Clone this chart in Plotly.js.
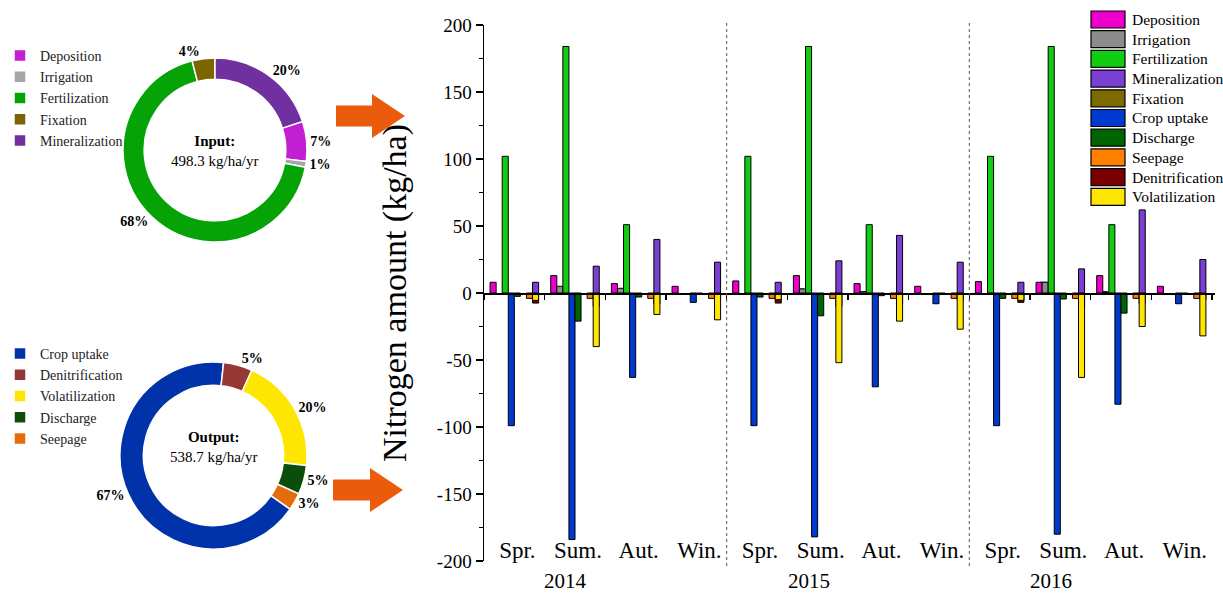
<!DOCTYPE html>
<html>
<head>
<meta charset="utf-8">
<script src="https://cdn.plot.ly/plotly-3.0.1.min.js"></script>
<style>html,body{margin:0;padding:0;background:#fff;}#chart{width:1223px;height:594px;}</style>
</head>
<body>
<div id="chart"></div>
<script>
// ---------- data ----------
const years = ['2014', '2015', '2016'];
const seasons = ['Spr.', 'Sum.', 'Aut.', 'Win.'];

// seasonal nitrogen fluxes (kg/ha), order: 2014 Spr..Win, 2015 Spr..Win, 2016 Spr..Win
const deposition     = [8, 13, 7, 5,   9, 13, 7, 5,   8.5, 8, 13, 5];
const irrigation     = [null, 5, 3.5, null,   null, 3, 1, null,   null, 8, 0.5, null];
const fertilization  = [102, 184, 51, null,   102, 184, 51, null,   102, 184, 51, null];
const mineralization = [8, 20, 40, 23,   8, 24, 43, 23,   8, 18, 62, 25];
const fixation       = [null, 4, 2, null,   null, 3, 1, null,   null, 8, 1, null];
const cropUptake     = [-99, -184, -63, -7,   -99, -182, -70, -8,   -99, -180, -83, -8];
const discharge      = [-2.5, -21, -3, -1,   -3, -17, -2, -1,   -4, -4.5, -15, -1];
const seepage        = [-4, -4, -4, -4,   -4, -4, -4, -4,   -4, -4, -4, -4];
const denitrification= [-7.5, -10, -8, -5,   -7.5, -10, -8, -5,   -7, -10, -8, -5];
const volatilization = [-5.5, -40, -16, -20,   -5, -52, -21, -27,   -5.5, -63, -25, -32];

// annual budget donuts (%)
const inputLabels  = ['Deposition', 'Irrigation', 'Fertilization', 'Fixation', 'Mineralization'];
const inputShares  = [7, 1, 68, 4, 20];
const outputLabels = ['Crop uptake', 'Denitrification', 'Volatilization', 'Discharge', 'Seepage'];
const outputShares = [67, 5, 20, 5, 3];
const inputTotal = '498.3 kg/ha/yr';
const outputTotal = '538.7 kg/ha/yr';

const yTicks = [-200, -150, -100, -50, 0, 50, 100, 150, 200];

// ---------- helpers ----------
const W = 1223, H = 594;
const px = v => v / W;
const py = v => 1 - v / H;

const seasonX = [];
const seasonLabels = [];
years.forEach((yr, yi) => seasons.forEach((s, si) => {
  seasonX.push(yi * seasons.length + si);
  seasonLabels.push(s);
}));

const SLOT = 0.1;
const series = [];   // legend bookkeeping
function barTrace(name, vals, color, slot, rank) {
  series.push({name: name, color: color, rank: rank});
  return {
    type: 'bar', name: name, x: seasonX, y: vals,
    offset: slot * SLOT, width: SLOT,
    marker: {color: color, line: {color: '#000', width: 1}},
    showlegend: false, hoverinfo: 'name+y'
  };
}

const pctFont = {family: 'Liberation Serif', size: 14, color: '#000', weight: 'bold'};

const traces = [
  barTrace('Fixation', fixation, '#7A6A00', 1.75, 5),
  barTrace('Deposition', deposition, '#EE00CC', 1, 1),
  barTrace('Irrigation', irrigation, '#8C8C8C', 2, 2),
  barTrace('Fertilization', fertilization, '#11CC11', 3, 3),
  barTrace('Crop uptake', cropUptake, '#0038D0', 4, 6),
  barTrace('Discharge', discharge, '#006400', 5, 7),
  barTrace('Seepage', seepage, '#FF8000', 7, 8),
  barTrace('Denitrification', denitrification, '#7A0000', 8, 9),
  barTrace('Volatilization', volatilization, '#FFE600', 8, 10),
  barTrace('Mineralization', mineralization, '#7B3FD4', 8, 4),
  {type: 'scatter', x: [], y: [], xaxis: 'x2', yaxis: 'y', showlegend: false, hoverinfo: 'skip'},
  {
    type: 'pie', labels: inputLabels, values: inputShares, sort: false,
    direction: 'clockwise', rotation: 72, hole: 0.77,
    domain: {x: [px(123), px(307)], y: [py(242), py(58)]},
    marker: {colors: ['#C21FD3', '#A6A6A6', '#05A305', '#7A6500', '#7030A0'], line: {color: '#fff', width: 1.5}},
    texttemplate: '%{value}%', textposition: 'outside', textfont: pctFont,
    legend: 'legend2', hoverinfo: 'label+percent'
  },
  {
    type: 'pie', labels: outputLabels, values: outputShares, sort: false,
    direction: 'clockwise', rotation: 125, hole: 0.75,
    domain: {x: [px(120), px(307)], y: [py(549), py(362)]},
    marker: {colors: ['#0033AA', '#953735', '#FFE600', '#0B4D0B', '#E46C0A'], line: {color: '#fff', width: 1.5}},
    texttemplate: '%{value}%', textposition: 'outside', textfont: pctFont,
    legend: 'legend3', hoverinfo: 'label+percent'
  }
];

const xRange = [0, 12.05];
const xDomain = [px(484), px(1215)];
const yDomain = [py(561), py(25)];

function arrowPath(x0, xNeck, xTip, yMid, bodyHalf, headHalf) {
  const pts = [
    [x0, yMid - bodyHalf], [xNeck, yMid - bodyHalf], [xNeck, yMid - headHalf],
    [xTip, yMid], [xNeck, yMid + headHalf], [xNeck, yMid + bodyHalf], [x0, yMid + bodyHalf]
  ];
  return 'M' + pts.map(p => px(p[0]).toFixed(5) + ',' + py(p[1]).toFixed(5)).join(' L') + ' Z';
}

const shapes = [];
for (let k = 1; k < years.length; k++) {
  shapes.push({type: 'line', xref: 'x', yref: 'paper', x0: k * seasons.length, x1: k * seasons.length,
    y0: py(566), y1: py(22), line: {color: '#555', width: 1, dash: 'dot'}});
}
shapes.push({type: 'path', xref: 'paper', yref: 'paper', path: arrowPath(336, 372, 405, 116, 10.5, 22),
  fillcolor: '#EA5B0C', line: {width: 0}});
shapes.push({type: 'path', xref: 'paper', yref: 'paper', path: arrowPath(333, 370, 403, 490, 10.5, 22),
  fillcolor: '#EA5B0C', line: {width: 0}});

const annotations = years.map((yr, yi) => ({
  text: yr, xref: 'x', yref: 'paper', x: yi * seasons.length + 1.35, y: py(581),
  showarrow: false, font: {size: 21, color: '#000'}, xanchor: 'center', yanchor: 'middle'
}));
annotations.push({text: '<b>Input:</b><br>' + inputTotal, xref: 'paper', yref: 'paper',
  x: px(215), y: py(151), showarrow: false, font: {size: 15, color: '#000'}, xanchor: 'center', yanchor: 'middle'});
annotations.push({text: '<b>Output:</b><br>' + outputTotal, xref: 'paper', yref: 'paper',
  x: px(214), y: py(447), showarrow: false, font: {size: 15, color: '#000'}, xanchor: 'center', yanchor: 'middle'});

// bar legend (large swatches, as in the original figure)
const LEG_X0 = 1091, LEG_X1 = 1125, LEG_Y0 = 11, LEG_ROW = 19.7, LEG_H = 17;
series.slice().sort((a, b) => a.rank - b.rank).forEach((s, i) => {
  const top = LEG_Y0 + i * LEG_ROW;
  shapes.push({type: 'rect', xref: 'paper', yref: 'paper',
    x0: px(LEG_X0), x1: px(LEG_X1), y0: py(top + LEG_H), y1: py(top),
    fillcolor: s.color, line: {color: '#000', width: 1.2}});
  annotations.push({text: s.name, xref: 'paper', yref: 'paper', x: px(LEG_X1 + 5), y: py(top + LEG_H / 2),
    xanchor: 'left', yanchor: 'middle', showarrow: false, font: {size: 15.5, color: '#000'}});
});

const layout = {
  width: W, height: H,
  margin: {l: 0, r: 0, t: 0, b: 0},
  paper_bgcolor: '#fff', plot_bgcolor: 'rgba(0,0,0,0)',
  font: {family: 'Liberation Serif', color: '#000'},
  barmode: 'overlay',
  showlegend: true,
  xaxis: {
    domain: xDomain, range: xRange, anchor: 'free', position: py(534),
    showline: false, showgrid: false, zeroline: false, ticks: '',
    tickmode: 'array', tickvals: seasonX.map(v => v + 0.55), ticktext: seasonLabels,
    tickfont: {size: 23, color: '#000'}, fixedrange: true
  },
  xaxis2: {
    domain: xDomain, range: xRange, overlaying: 'x', anchor: 'free', position: py(293), side: 'bottom',
    showline: true, linecolor: '#000', linewidth: 1.5, showgrid: false, zeroline: false,
    ticks: 'outside', ticklen: 5, tickwidth: 1.2, tickcolor: '#000',
    tickmode: 'linear', tick0: 0, dtick: 1, showticklabels: false
  },
  yaxis: {
    domain: yDomain, range: [-200, 200], anchor: 'x',
    showline: true, linecolor: '#000', linewidth: 1.5, showgrid: false, zeroline: false,
    ticks: 'outside', ticklen: 7, tickwidth: 1.2, tickcolor: '#000',
    tickmode: 'array', tickvals: yTicks, ticktext: yTicks.map(v => String(v)),
    minor: {tickmode: 'linear', tick0: 0, dtick: 25, ticks: 'outside', ticklen: 4, tickwidth: 1.2, tickcolor: '#000'},
    tickfont: {size: 19, color: '#000'},
    title: {text: 'Nitrogen amount (kg/ha)', font: {size: 34, color: '#000'}, standoff: 20}
  },
  legend2: {x: 0, y: py(40), xanchor: 'left', yanchor: 'top', bgcolor: 'rgba(255,255,255,0)',
    font: {size: 14, color: '#222'}},
  legend3: {x: 0, y: py(338), xanchor: 'left', yanchor: 'top', bgcolor: 'rgba(255,255,255,0)',
    font: {size: 14, color: '#222'}},
  shapes: shapes,
  annotations: annotations
};

Plotly.newPlot('chart', traces, layout, {displayModeBar: false, staticPlot: true});
</script>
</body>
</html>
